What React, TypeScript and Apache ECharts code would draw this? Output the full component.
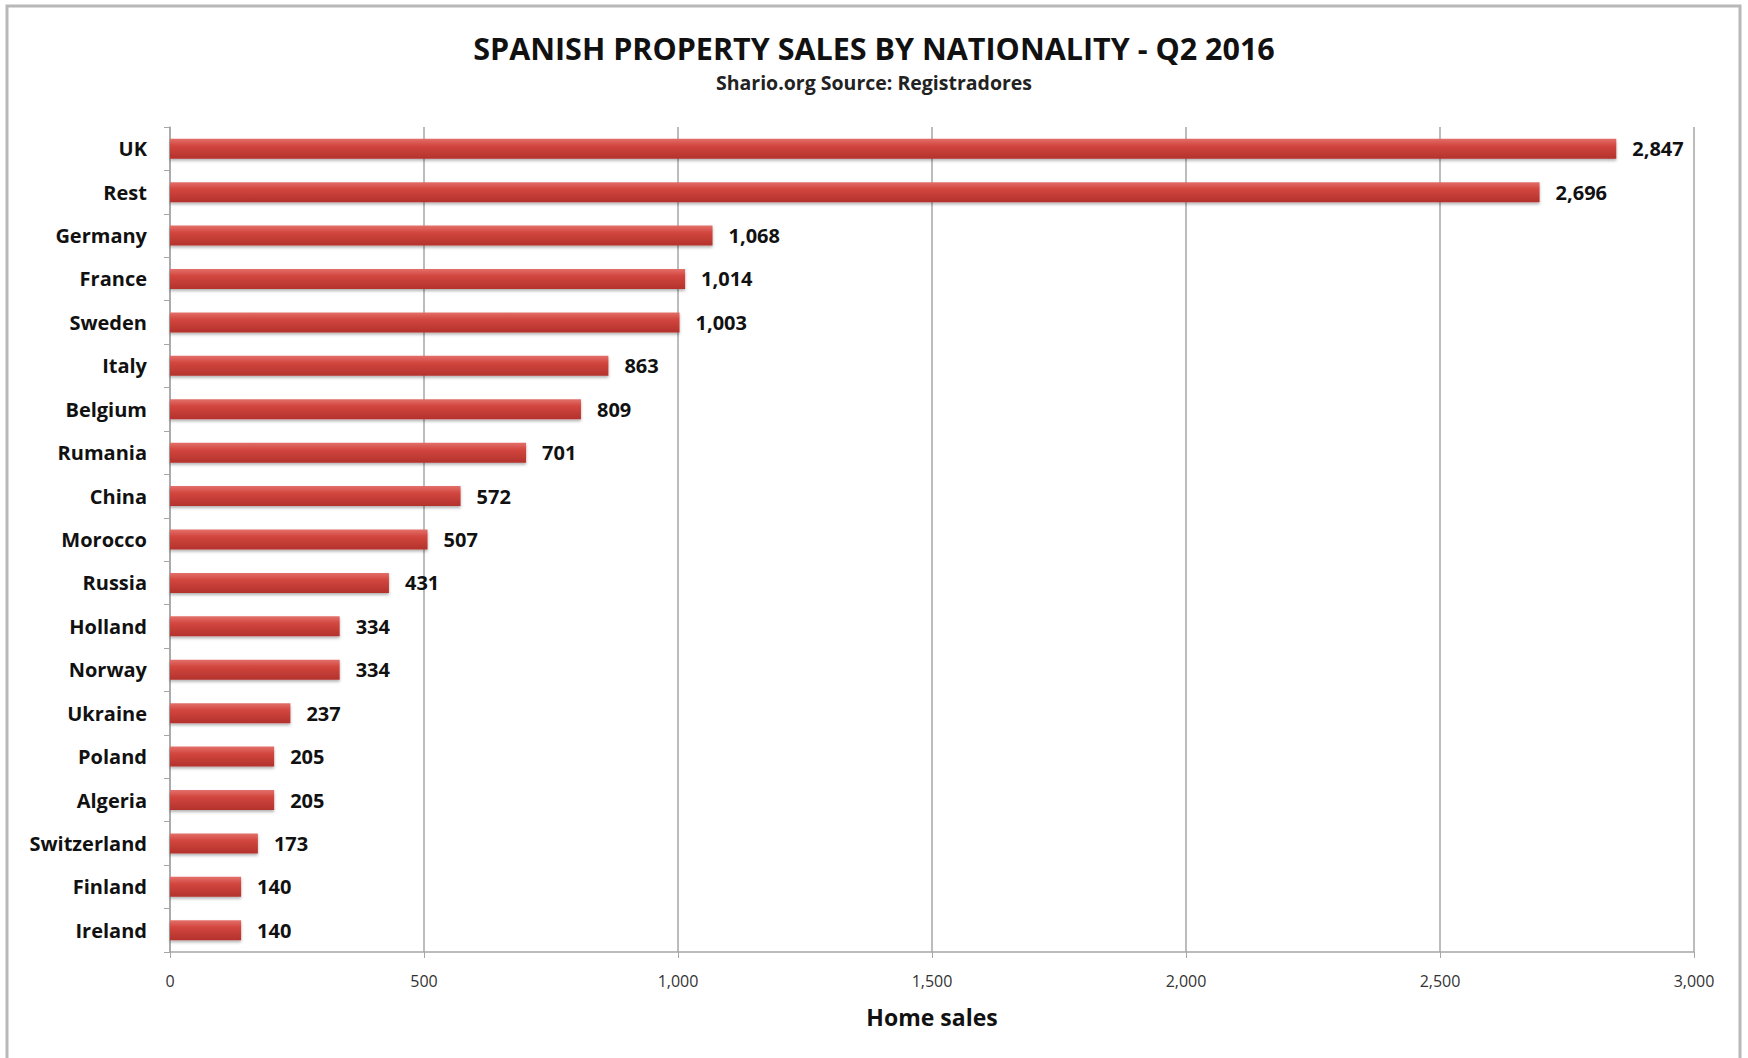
import React, { useEffect, useRef } from "react";
import * as echarts from "echarts";

const categories = [
  "UK", "Rest", "Germany", "France", "Sweden", "Italy", "Belgium", "Rumania", "China",
  "Morocco", "Russia", "Holland", "Norway", "Ukraine", "Poland", "Algeria", "Switzerland",
  "Finland", "Ireland",
];
const sales = [2847, 2696, 1068, 1014, 1003, 863, 809, 701, 572, 507, 431, 334, 334, 237, 205, 205, 173, 140, 140];
const titleText = "SPANISH PROPERTY SALES BY NATIONALITY - Q2 2016";
const subtitleText = "Shario.org Source: Registradores";
const axisName = "Home sales";

const fmt = (v: number) => v.toLocaleString("en-US");
const FONT = "Open Sans";

export default function App() {
  const ref = useRef<HTMLDivElement>(null);
  useEffect(() => {
    document.body.style.margin = "0";
    const chart = echarts.init(ref.current!, null, { renderer: "svg" });
    chart.setOption({
      animation: false,
      backgroundColor: "#ffffff",
      title: [
        {
          text: titleText,
          left: "center",
          top: 27,
          textStyle: { fontFamily: FONT, fontWeight: "bold", fontSize: 30.5, color: "#111" },
        },
        {
          text: subtitleText,
          left: "center",
          top: 67,
          textStyle: { fontFamily: FONT, fontWeight: "bold", fontSize: 19.5, color: "#222" },
        },
      ],
      graphic: [
        {
          type: "rect",
          z: 100,
          silent: true,
          shape: { x: 7, y: 6, width: 1733, height: 1070 },
          style: { fill: "transparent", stroke: "#b8b8b8", lineWidth: 3 },
        },
      ],
      grid: { left: 170, right: 54, top: 127, bottom: 106, containLabel: false },
      xAxis: {
        type: "value",
        min: 0,
        max: 3000,
        interval: 500,
        name: axisName,
        nameLocation: "middle",
        nameGap: 53,
        nameTextStyle: { fontFamily: FONT, fontWeight: "bold", fontSize: 23, color: "#111" },
        axisLine: { show: true, lineStyle: { color: "#a6a6a6", width: 1.5 } },
        axisTick: { show: true, length: 6, lineStyle: { color: "#a6a6a6" } },
        splitLine: { show: true, lineStyle: { color: "#a6a6a6", width: 1.5 } },
        axisLabel: {
          formatter: (v: number) => fmt(v),
          fontFamily: FONT,
          fontSize: 16,
          color: "#333",
          margin: 21,
        },
      },
      yAxis: {
        type: "category",
        data: categories,
        inverse: true,
        axisLine: { show: true, lineStyle: { color: "#a6a6a6", width: 1.5 } },
        axisTick: { show: true, length: 6, lineStyle: { color: "#a6a6a6" } },
        axisLabel: {
          fontFamily: FONT,
          fontWeight: "bold",
          fontSize: 20,
          color: "#111",
          margin: 23,
        },
      },
      series: [
        {
          type: "bar",
          data: sales,
          barWidth: 20,
          itemStyle: {
            color: new echarts.graphic.LinearGradient(0, 0, 0, 1, [
              { offset: 0, color: "#e3706a" },
              { offset: 0.35, color: "#d2463f" },
              { offset: 1, color: "#b3322c" },
            ]),
            shadowColor: "rgba(0,0,0,0.3)",
            shadowBlur: 3,
            shadowOffsetY: 2,
          },
          label: {
            show: true,
            position: "right",
            distance: 16,
            formatter: (p: any) => fmt(p.value),
            fontFamily: FONT,
            fontWeight: "bold",
            fontSize: 20,
            color: "#111",
          },
        },
      ],
    });
    return () => chart.dispose();
  }, []);
  return <div ref={ref} style={{ width: 1748, height: 1058 }} />;
}
